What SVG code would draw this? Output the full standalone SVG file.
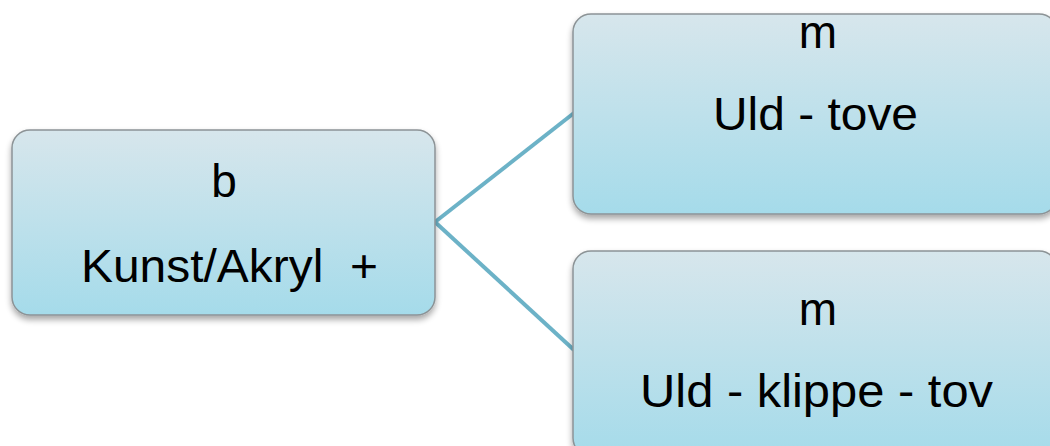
<svg xmlns="http://www.w3.org/2000/svg" width="1050" height="446" viewBox="0 0 1050 446">
<defs>
<linearGradient id="g" x1="0" y1="0" x2="0" y2="1">
<stop offset="0" stop-color="#d7e6ec"/>
<stop offset="1" stop-color="#a5dbea"/>
</linearGradient>
<filter id="sh" x="-10%" y="-10%" width="120%" height="130%">
<feGaussianBlur in="SourceAlpha" stdDeviation="3"/>
<feOffset dx="0" dy="4" result="b"/>
<feComponentTransfer><feFuncA type="linear" slope="0.35"/></feComponentTransfer>
<feMerge><feMergeNode/><feMergeNode in="SourceGraphic"/></feMerge>
</filter>
</defs>
<style>
.box{fill:url(#g);stroke:#8c9396;stroke-width:1.5;filter:url(#sh)}
.t{font-family:"Liberation Sans",Arial,sans-serif;font-size:46px;fill:#000;text-anchor:middle}
.c{stroke:#6cb2c7;stroke-width:4;fill:none}
</style>
<rect width="1050" height="446" fill="#fff"/>
<g id="connectors">
<line class="c" x1="435" y1="222" x2="574" y2="113"/>
<line class="c" x1="435" y1="222" x2="574" y2="350"/>
</g>
<g id="node-b">
<rect class="box" x="12" y="130" width="423" height="185" rx="18"/>
<text class="t" x="224" y="197">b</text>
<text class="t" x="229.5" y="282" xml:space="preserve" textLength="297" lengthAdjust="spacingAndGlyphs">Kunst/Akryl  +</text>
</g>
<g id="node-m1">
<rect class="box" x="573" y="14" width="484" height="200" rx="18"/>
<text class="t" x="818" y="48">m</text>
<text class="t" x="815.5" y="130" textLength="205" lengthAdjust="spacingAndGlyphs">Uld - tove</text>
</g>
<g id="node-m2">
<rect class="box" x="573" y="251" width="484" height="205" rx="18"/>
<text class="t" x="818" y="325">m</text>
<text class="t" x="816.5" y="407" textLength="353" lengthAdjust="spacingAndGlyphs">Uld - klippe - tov</text>
</g>
</svg>
